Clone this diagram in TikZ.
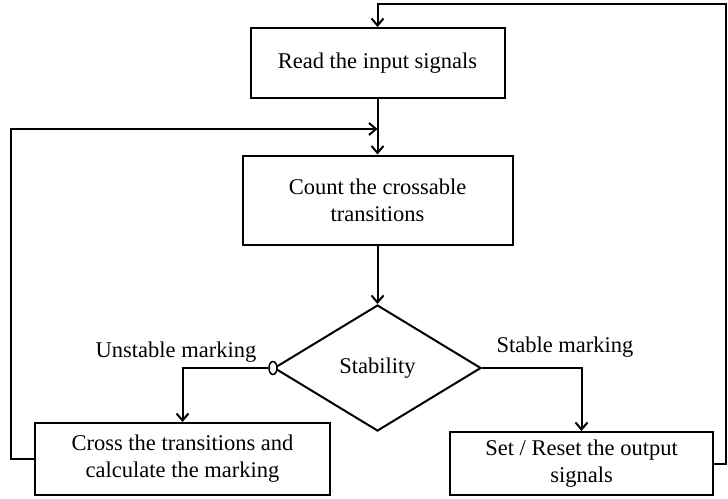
\documentclass[tikz,border=0pt]{standalone}
\usepackage{fontspec}
\setmainfont{Liberation Serif}
\usetikzlibrary{arrows.meta,positioning,shapes.geometric}

\begin{document}
\begin{tikzpicture}[x=1pt,y=-1pt,
	font=\fontsize{22.5}{27}\selectfont,
	box/.style={draw,line width=2pt,align=center,inner sep=0pt},
	flow/.style={line width=2pt,-{Straight Barb[length=7pt,width=12pt,line width=2pt]}}]
	\useasboundingbox (0,0) rectangle (728,498);
	% blocks
	\node[box,minimum width=254pt,minimum height=70pt] (read) at (377.5,63) {Read the input signals};
	\node[box,minimum width=270pt,minimum height=89pt] (count) at (377.5,200) {Count the crossable\\transitions};
	\node[draw,diamond,line width=2pt,inner sep=0pt,minimum width=207pt,minimum height=126pt] (stab) at (377.5,368) {Stability};
	\node[box,minimum width=295pt,minimum height=72pt] (cross) at (182.5,459) {Cross the transitions and\\calculate the marking};
	\node[box,minimum width=263pt,minimum height=63pt] (set) at (581.5,463.5) {Set / Reset the output\\signals};
	\node[draw,ellipse,line width=1.5pt,fill=white,inner sep=0pt,minimum width=8pt,minimum height=13pt] (neg) at (stab.west) {};
	% labels
	\node (unst) at (176,352) {Unstable marking};
	\node (stbl) at (565,347) {Stable marking};
	% loop corners
	\coordinate (leftc) at (11,129);
	\coordinate (joinl) at (377.5,129);
	\coordinate (topr) at (726,4);
	% connectors
	\draw[flow] (read) -- (count);
	\draw[flow] (count) -- (stab);
	\draw[flow] (neg.west) -| (cross.north);
	\draw[flow] (stab.east) -| (set.north);
	\draw[flow] (cross.west) -| (leftc) -- (joinl);
	\draw[flow] (set.east) -| (topr) -| (read.north);
\end{tikzpicture}
\end{document}
